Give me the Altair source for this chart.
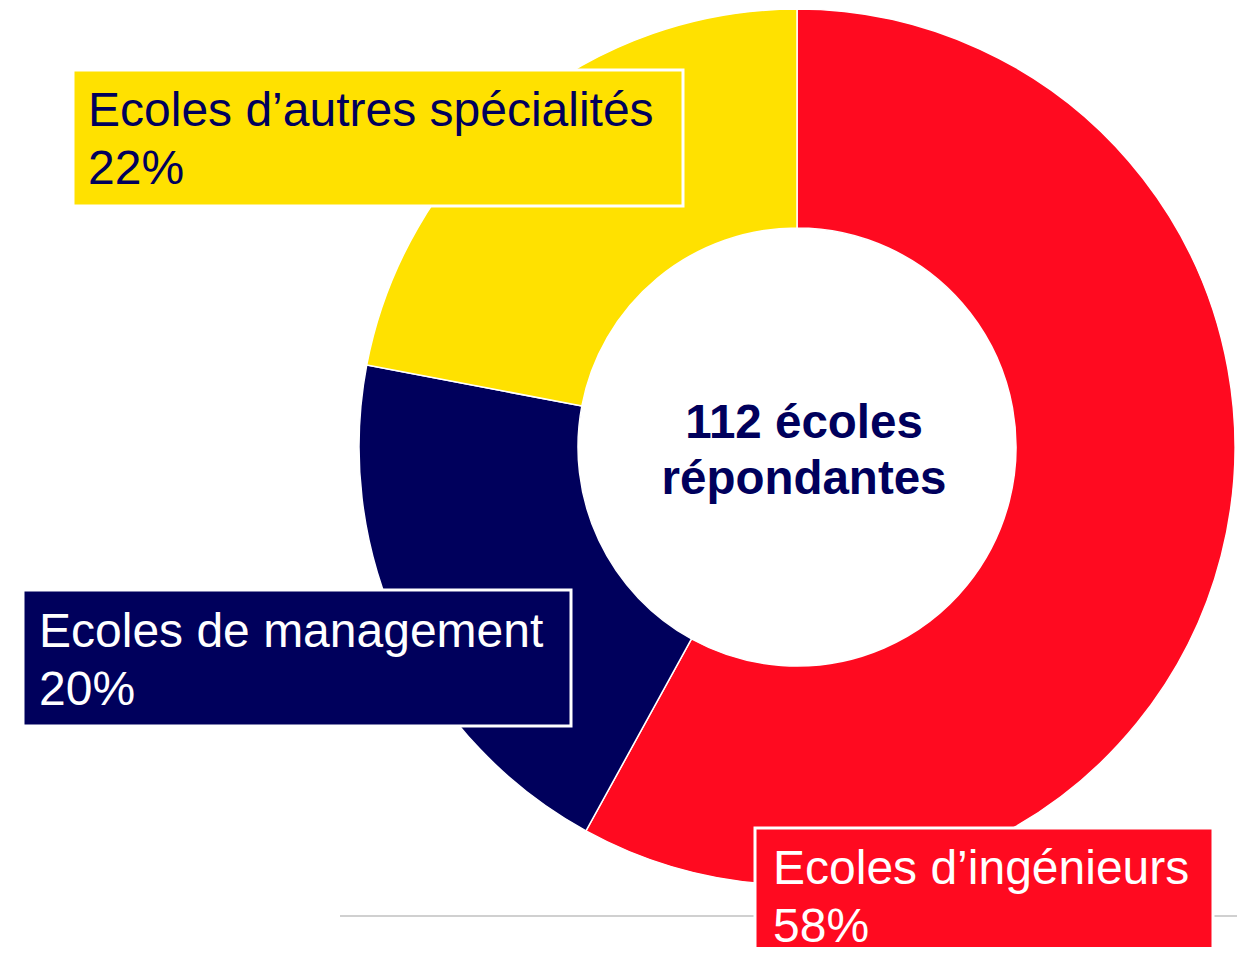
import altair as alt
import pandas as pd

# ---- data ----
categories = ["Ecoles d’ingénieurs", "Ecoles de management", "Ecoles d’autres spécialités"]
shares = [58, 20, 22]
share_labels = ["58%", "20%", "22%"]
colors = ["#ff0a20", "#00005c", "#ffe100"]
center_lines = ["112 écoles", "répondantes"]

df = pd.DataFrame({"cat": categories, "share": shares, "order": [0, 1, 2]})
one = pd.DataFrame({"k": [0]})

# ---- layout (page pixels, minus 8px page margin) ----
M = 8
def px(v):
    return v - M

CX, CY = px(797), px(447)
FONT = "Liberation Sans"

arc = alt.Chart(df).mark_arc(
    outerRadius=438, innerRadius=219, stroke="white", strokeWidth=1.5
).encode(
    theta=alt.Theta("share:Q", stack=True),
    color=alt.Color("cat:N", scale=alt.Scale(domain=categories, range=colors), legend=None),
    order=alt.Order("order:Q"),
    x=alt.value(CX),
    y=alt.value(CY),
)

rule = alt.Chart(one).mark_rule(color="#c0c0c0", strokeWidth=1.5).encode(
    x=alt.value(px(340)), x2=alt.value(px(1245)), y=alt.value(px(916))
)

# label boxes: (category index, x0, y0, x1, y1, text x, baseline y, text colour)
boxes = [
    (2, 73, 70, 683, 206, 88, 126, "#00005c"),
    (1, 23, 590, 571, 726, 39, 647, "white"),
    (0, 755, 828, 1213, 962, 773, 884, "white"),
]

layers = [arc, rule]
for idx, x0, y0, x1, y1, tx, ty, tc in boxes:
    rect = alt.Chart(one).mark_rect(
        color=colors[idx], stroke="white", strokeWidth=3
    ).encode(
        x=alt.value(px(x0)), x2=alt.value(px(x1)),
        y=alt.value(px(y0)), y2=alt.value(px(y1)),
    )
    txt = alt.Chart(one).mark_text(
        text=[categories[idx], share_labels[idx]],
        font=FONT, fontSize=48, color=tc, align="left",
        baseline="alphabetic", lineHeight=58,
    ).encode(x=alt.value(px(tx)), y=alt.value(px(ty)))
    layers += [rect, txt]

center = alt.Chart(one).mark_text(
    text=center_lines, font=FONT, fontSize=47.5, fontWeight="bold",
    color="#00005c", align="center", baseline="alphabetic", lineHeight=56,
).encode(x=alt.value(px(804)), y=alt.value(px(438)))
layers.append(center)

chart = alt.layer(*layers).properties(
    width=1229, height=939, autosize="none", padding=0
).configure_view(stroke=None)

chart.save("out.html", embed_options={"renderer": "svg", "actions": False})
